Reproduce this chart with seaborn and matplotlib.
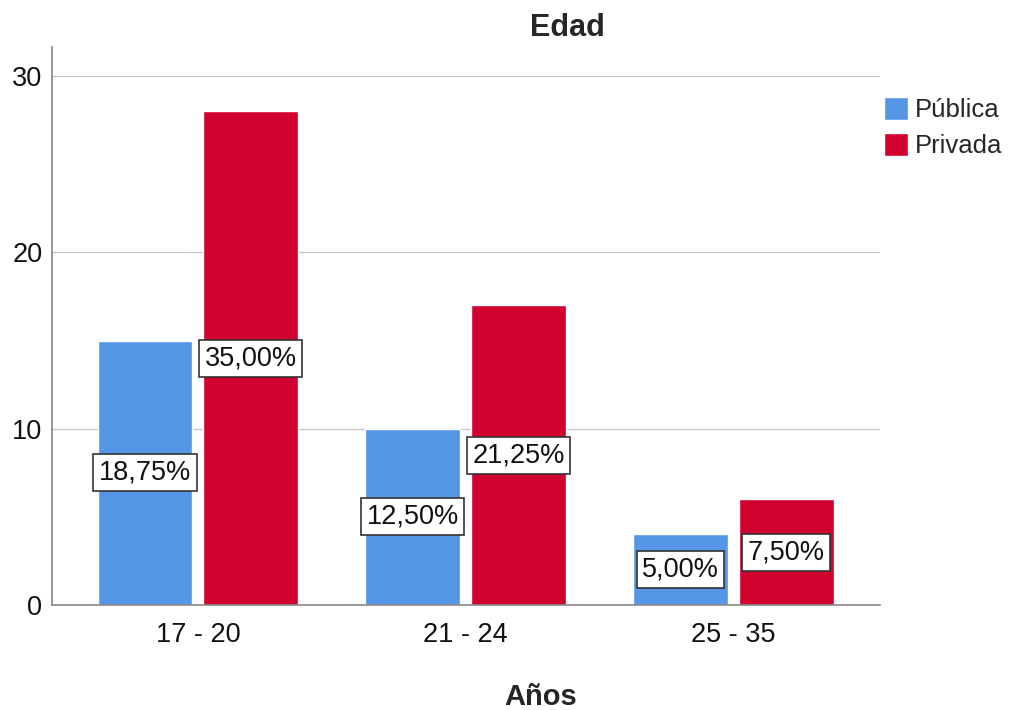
import matplotlib
matplotlib.use("Agg")
import matplotlib.pyplot as plt
import seaborn as sns
import pandas as pd
import numpy as np

# Age groups and counts per type of institution
categories = ["17 - 20", "21 - 24", "25 - 35"]
publica = [15, 10, 4]
privada = [28, 17, 6]
publica_pct = ["18,75%", "12,50%", "5,00%"]
privada_pct = ["35,00%", "21,25%", "7,50%"]
series_names = ["Pública", "Privada"]
colors = ["#5596e6", "#d2002e"]

df = pd.DataFrame({
    "Años": categories * 2,
    "Tipo": [series_names[0]] * 3 + [series_names[1]] * 3,
    "n": publica + privada,
    "pct": publica_pct + privada_pct,
})

sns.set_theme(style="white")
plt.rcParams["font.family"] = ["Liberation Sans", "DejaVu Sans"]

fig = plt.figure(figsize=(10.1, 7.1), dpi=100)
ax = fig.add_axes([52 / 1010, 1 - 605 / 710, 828 / 1010, 558 / 710])

sns.barplot(data=df, x="Años", y="n", hue="Tipo", palette=colors,
            width=0.791, gap=0.104, saturation=1, ax=ax, legend=True)

ax.set_xlim(-0.545, 2.548)
ax.set_ylim(0, 31.65)
ax.set_yticks([0, 10, 20, 30])
ax.yaxis.grid(True, color="#c8c8c8", linewidth=1)
ax.set_axisbelow(True)
for s in ["top", "right"]:
    ax.spines[s].set_visible(False)
for s in ["left", "bottom"]:
    ax.spines[s].set_color("#888888")
    ax.spines[s].set_linewidth(1.2)
ax.tick_params(axis="both", length=0, labelsize=19.5, colors="#111111")
ax.tick_params(axis="x", pad=12)
ax.tick_params(axis="y", pad=7)
ax.set_xlabel("")
ax.set_ylabel("")

# Percentage labels centred on each bar at half height
for cont, labels in zip(ax.containers, [publica_pct, privada_pct]):
    for bar, lab in zip(cont, labels):
        xc = bar.get_x() + bar.get_width() / 2
        yc = bar.get_height() / 2
        ax.text(xc, yc, lab, ha="center", va="center", fontsize=19.5, color="#111111",
                bbox=dict(boxstyle="square,pad=0.2", fc="white", ec="#333333", lw=1.2))

ax.legend(loc="upper left", bbox_to_anchor=(884 / 1010, 1 - 97 / 710),
          bbox_transform=fig.transFigure, frameon=False, borderpad=0,
          fontsize=18.5, handlelength=0.95, handleheight=1.0, handletextpad=0.25,
          labelspacing=0.42, borderaxespad=0)

fig.text(567 / 1010, 1 - 28 / 710, "Edad", ha="center", va="center",
         fontsize=22, fontweight="bold")
fig.text(541 / 1010, 1 - 697 / 710, "Años", ha="center", va="center",
         fontsize=21, fontweight="bold")

fig.savefig("out.png", dpi=100)
